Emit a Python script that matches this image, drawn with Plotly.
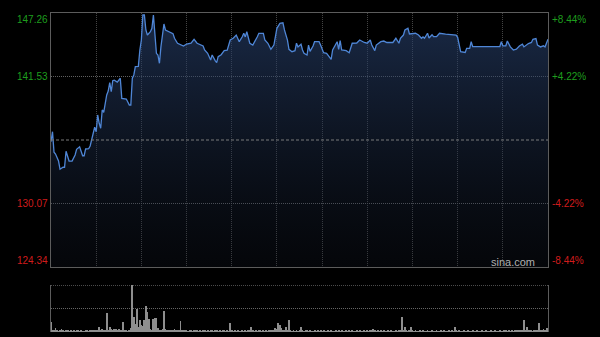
import plotly.graph_objects as go

# ---- data ----
prev_close = 135.80
price_ticks = [147.26, 141.53, 130.07, 124.34]
pct_ticks = ["+8.44%", "+4.22%", "-4.22%", "-8.44%"]
tick_colors = ["#1e9e1e", "#1e9e1e", "#d01c1c", "#d01c1c"]
vol_max = 100

minutes = [0, 1, 2, 3, 5, 6, 8, 9, 10, 12, 14, 16, 17, 19, 21, 22, 23, 25, 26, 28,
           29, 30, 31, 32, 33, 34, 35, 37, 38, 39, 40, 41, 42, 44, 45, 46, 47, 49, 50, 52,
           53, 54, 55, 56, 58, 59, 60, 61, 62, 63, 64, 66, 67, 68, 69, 70, 71, 72, 73, 75,
           76, 78, 81, 82, 84, 88, 90, 93, 95, 97, 99, 101, 102, 104, 106, 107, 109, 110, 111, 113,
           115, 117, 119, 121, 123, 125, 127, 128, 129, 130, 132, 134, 137, 138, 141, 142, 144, 146, 148, 150,
           152, 153, 154, 155, 157, 158, 160, 162, 163, 164, 166, 167, 168, 170, 171, 172, 174, 175, 178, 179,
           181, 183, 184, 186, 187, 188, 190, 191, 192, 193, 196, 198, 200, 203, 205, 208, 210, 212, 213, 215,
           216, 219, 221, 223, 225, 227, 229, 231, 232, 234, 235, 237, 238, 240, 242, 244, 246, 247, 248, 250,
           251, 253, 254, 256, 258, 262, 267, 269, 270, 271, 272, 275, 276, 278, 279, 280, 283, 298, 299, 300,
           302, 303, 305, 307, 309, 311, 313, 314, 317, 319, 320, 322, 323, 325, 327, 328, 330]
prices = [135.65, 136.55, 134.70, 134.53, 133.90, 133.16, 133.34, 133.34, 134.78, 133.90,
          133.90, 134.45, 134.96, 135.19, 134.38, 134.38, 134.99, 135.01, 135.26, 136.25,
          136.95, 136.55, 138.06, 137.31, 136.86, 138.51, 138.30, 139.86, 140.22, 140.97,
          140.16, 141.15, 141.20, 141.03, 141.20, 141.37, 139.56, 139.56, 139.50, 138.96,
          138.96, 141.37, 141.67, 142.42, 142.45, 143.92, 144.82, 147.08, 147.08, 145.73,
          145.27, 145.57, 145.88, 147.08, 145.43, 143.62, 143.47, 142.72, 144.22, 146.27,
          145.73, 145.57, 145.40, 144.98, 144.53, 144.28, 144.46, 144.53, 144.89, 144.53,
          144.37, 144.28, 143.92, 143.62, 143.02, 143.47, 142.96, 142.78, 143.32, 143.50,
          143.86, 143.90, 144.82, 144.98, 145.27, 144.67, 145.12, 145.43, 145.10, 145.57,
          144.53, 144.37, 145.12, 145.43, 145.43, 144.82, 144.53, 143.98, 144.37, 145.88,
          146.33, 146.38, 146.38, 145.73, 144.82, 143.98, 143.77, 143.86, 144.53, 144.20,
          144.44, 143.92, 143.62, 143.47, 144.37, 143.80, 144.28, 144.67, 144.67, 144.37,
          143.68, 143.62, 143.47, 143.08, 143.92, 144.20, 144.67, 143.98, 144.76, 143.92,
          143.86, 143.68, 144.53, 144.55, 144.82, 144.60, 144.53, 144.82, 144.37, 143.86,
          144.37, 144.67, 144.73, 144.60, 144.62, 144.60, 144.98, 144.53, 144.98, 145.27,
          145.73, 145.88, 145.37, 145.43, 145.43, 145.27, 144.98, 145.10, 144.98, 145.43,
          145.00, 145.30, 145.12, 145.12, 145.43, 145.35, 145.27, 145.27, 145.07, 144.22,
          143.77, 143.70, 144.07, 144.07, 144.67, 144.22, 144.22, 144.22, 144.67, 144.30,
          144.30, 144.73, 144.20, 143.92, 144.00, 144.28, 144.44, 144.20, 144.50, 144.60,
          144.89, 144.95, 144.37, 144.20, 144.30, 144.20, 144.89]

volume = [21, 4, 3, 8, 3, 2, 5, 7, 3, 2,
          3, 4, 2, 3, 2, 3, 2, 4, 3, 2,
          3, 2, 2, 3, 4, 2, 3, 3, 5, 4,
          3, 5, 11, 4, 6, 3, 4, 40, 5, 10,
          6, 5, 6, 7, 5, 6, 5, 4, 22, 3,
          3, 2, 4, 8, 100, 33, 18, 50, 10, 26,
          14, 12, 26, 55, 43, 28, 6, 4, 27, 29,
          31, 8, 5, 4, 6, 45, 6, 4, 3, 4,
          3, 5, 6, 4, 3, 4, 24, 5, 4, 3,
          3, 2, 4, 3, 2, 3, 4, 3, 2, 3,
          2, 3, 4, 2, 3, 2, 3, 5, 2, 3,
          3, 2, 3, 2, 4, 3, 2, 3, 2, 20,
          3, 2, 3, 2, 3, 2, 2, 3, 2, 3,
          2, 3, 4, 10, 3, 2, 3, 2, 3, 4,
          2, 3, 2, 3, 2, 3, 4, 3, 5, 8,
          7, 20, 15, 9, 5, 4, 10, 4, 26, 3,
          2, 3, 2, 3, 2, 3, 10, 3, 2, 3,
          4, 2, 3, 2, 2, 3, 2, 3, 2, 3,
          2, 3, 2, 2, 3, 2, 3, 2, 2, 3,
          2, 3, 2, 3, 2, 2, 3, 2, 3, 2,
          3, 2, 2, 3, 2, 3, 2, 2, 3, 2,
          3, 2, 3, 4, 6, 3, 2, 3, 2, 3,
          2, 3, 2, 2, 3, 2, 3, 2, 2, 3,
          2, 3, 4, 33, 3, 10, 3, 2, 4, 10,
          3, 2, 3, 2, 2, 3, 2, 3, 2, 2,
          3, 2, 2, 3, 2, 2, 3, 2, 2, 3,
          2, 3, 2, 2, 3, 2, 3, 2, 10, 3,
          2, 3, 2, 2, 3, 2, 2, 3, 2, 2,
          3, 2, 2, 3, 2, 2, 3, 2, 2, 3,
          2, 2, 3, 2, 2, 3, 2, 2, 3, 2,
          2, 3, 4, 2, 3, 2, 3, 2, 4, 3,
          3, 4, 3, 5, 26, 3, 10, 3, 4, 3,
          2, 3, 4, 5, 20, 3, 4, 6, 5, 8,
          8]
vol_minutes = list(range(len(volume)))

# ---- figure ----
W, H = 600, 337
FONT = "Arial, Liberation Sans, sans-serif"
BORDER = "#5c5c5c"
GRID = "#444444"

fig = go.Figure()

fig.add_trace(go.Scatter(
    x=minutes, y=prices, mode="lines",
    line=dict(color="#4f86d6", width=1.3),
    fill="tozeroy",
    fillgradient=dict(type="vertical", start=price_ticks[-1], stop=price_ticks[0],
                      colorscale=[[0, "rgba(20,28,44,0.22)"], [1, "rgba(42,68,115,0.62)"]]),
    hoverinfo="skip", xaxis="x", yaxis="y",
))

fig.add_trace(go.Bar(
    x=vol_minutes, y=volume, width=0.6,
    marker=dict(color="#8e8e8e", line=dict(width=0)),
    hoverinfo="skip", xaxis="x2", yaxis="y2",
))

# previous-close midline
fig.add_shape(type="line", xref="x domain", yref="y", x0=0, x1=1,
              y0=prev_close, y1=prev_close,
              line=dict(color="#7a7a7a", width=1, dash="3px,2px"))

# top dotted line of the volume panel
fig.add_shape(type="line", xref="x2 domain", yref="y2", x0=0, x1=1,
              y0=vol_max, y1=vol_max, layer="below",
              line=dict(color="#6a6a6a", width=1, dash="1px,1px"))

# price / percent labels
shifts = [-6, 0, 0, 7]
for val, pct, col, ys in zip(price_ticks, pct_ticks, tick_colors, shifts):
    fig.add_annotation(xref="paper", yref="y", x=0, y=val, text=f"{val:.2f}",
                       xanchor="right", yanchor="middle", showarrow=False,
                       xshift=-1, yshift=ys,
                       font=dict(family=FONT, size=10, color=col))
    fig.add_annotation(xref="paper", yref="y", x=1, y=val, text=pct,
                       xanchor="left", yanchor="middle", showarrow=False,
                       xshift=2, yshift=ys,
                       font=dict(family=FONT, size=10, color=col))

plot_h = 337 - 13 - 5
fig.add_annotation(xref="paper", yref="paper", x=0.978, y=70 / plot_h, text="sina.com",
                   xanchor="right", yanchor="middle", showarrow=False,
                   font=dict(family=FONT, size=11, color="#b0b0b0"))

fig.update_layout(
    width=W, height=H,
    margin=dict(l=51, r=52, t=13, b=5, pad=0),
    paper_bgcolor="#000000", plot_bgcolor="#000000",
    showlegend=False, hovermode=False,
    bargap=0,
    xaxis=dict(domain=[0, 1], range=[0, 330], tickvals=list(range(30, 330, 30)),
               showticklabels=False, ticks="", showgrid=True, gridcolor=GRID,
               griddash="1px,1px", gridwidth=1, zeroline=False,
               showline=True, mirror=True, linecolor=BORDER, linewidth=1,
               anchor="y", fixedrange=True),
    yaxis=dict(domain=[65 / plot_h, 1], range=[price_ticks[-1], price_ticks[0]],
               tickvals=[price_ticks[1], price_ticks[2]], showticklabels=False, ticks="",
               showgrid=True, gridcolor="#606060", griddash="1px,1px", gridwidth=1,
               zeroline=False, showline=True, mirror=True, linecolor=BORDER,
               linewidth=1, anchor="x"),
    xaxis2=dict(domain=[0, 1], range=[0, 330], matches="x", showticklabels=False,
                ticks="", showgrid=False, zeroline=False, showline=False, anchor="y2"),
    yaxis2=dict(domain=[0, 47 / plot_h], range=[0, 100.5], tickvals=[50],
                showticklabels=False, ticks="", showgrid=True, gridcolor="#666666",
                griddash="1px,1px", gridwidth=1, zeroline=False, showline=True,
                mirror=True, linecolor=BORDER, linewidth=1, anchor="x2"),
)

fig.write_html("out.html")
